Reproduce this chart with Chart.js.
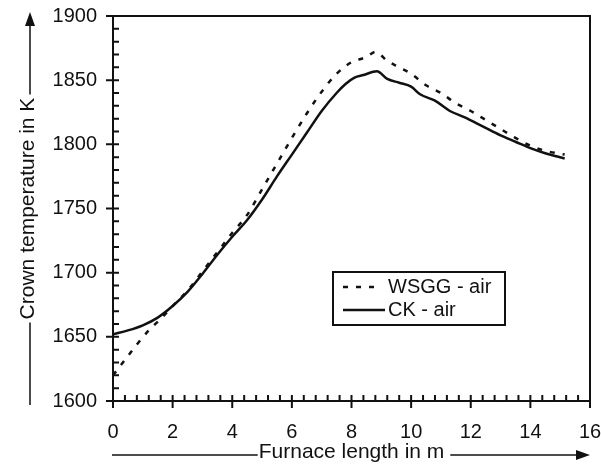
<!DOCTYPE html>
<html>
<head>
<meta charset="utf-8">
<script src="https://cdn.jsdelivr.net/npm/chart.js@4.4.1/dist/chart.umd.min.js"></script>
<style>
  html, body { margin: 0; padding: 0; background: #fff; }
  #wrap { width: 601px; height: 465px; }
</style>
</head>
<body>
<div id="wrap"><canvas id="chart" width="601" height="465"></canvas></div>
<script>
'use strict';

// WSGG - air (dashed)
const wsggLength = [0, 0.4, 0.8, 1.2, 1.6, 2.0, 2.5, 3.0, 3.5, 4.0, 4.5, 5.0, 5.5, 6.0, 6.5, 7.0, 7.5, 8.0, 8.5, 8.8,
                    9.2, 9.6, 10.0, 10.5, 11.0, 11.5, 12.0, 12.5, 13.0, 13.5, 14.0, 14.5, 15.15];
const wsggTemp   = [1620, 1632, 1644, 1655, 1664, 1674, 1686, 1701, 1716, 1731, 1745, 1765, 1785, 1805, 1824, 1841, 1855, 1864, 1868, 1872,
                    1865, 1860, 1855, 1846, 1840, 1832, 1826, 1819, 1812, 1805, 1799, 1795, 1792];

// CK - air (solid)
const ckLength = [0, 0.5, 1.0, 1.5, 2.0, 2.5, 3.0, 3.5, 4.0, 4.5, 5.0, 5.5, 6.0, 6.5, 7.0, 7.5, 7.8, 8.1, 8.4, 8.85,
                  9.2, 9.6, 10.0, 10.3, 10.8, 11.3, 11.8, 12.4, 13.0, 13.5, 14.0, 14.5, 15.15];
const ckTemp   = [1652, 1655, 1659, 1665, 1674, 1685, 1699, 1714, 1728, 1741, 1757, 1775, 1792, 1809, 1826, 1840, 1847, 1852, 1854, 1857,
                  1851, 1848, 1845, 1839, 1834, 1826, 1821, 1814, 1807, 1802, 1797, 1793, 1789];

const xMajor = [0, 2, 4, 6, 8, 10, 12, 14, 16];
const yMajor = [1600, 1650, 1700, 1750, 1800, 1850, 1900];
const MINOR_DIV = 5;

const INK = '#111';
const FONT = '"Liberation Sans", Arial, Helvetica, sans-serif';

const pairs = (xs, ys) => xs.map((v, i) => ({x: v, y: ys[i]}));

// frame, inward minor ticks and crossing major ticks
const frameTicks = {
  id: 'frameTicks',
  afterDraw(chart) {
    const {ctx, chartArea: a, scales: {x, y}} = chart;
    ctx.save();
    ctx.strokeStyle = INK;
    ctx.lineWidth = 2;
    ctx.strokeRect(a.left, a.top, a.right - a.left, a.bottom - a.top);
    ctx.beginPath();
    for (let i = 0; i < xMajor.length; i++) {
      const px = x.getPixelForValue(xMajor[i]);
      ctx.moveTo(px, a.bottom + 7);
      ctx.lineTo(px, a.bottom - 6);
      if (i < xMajor.length - 1) {
        const step = (xMajor[i + 1] - xMajor[i]) / MINOR_DIV;
        for (let k = 1; k < MINOR_DIV; k++) {
          const mx = x.getPixelForValue(xMajor[i] + k * step);
          ctx.moveTo(mx, a.bottom);
          ctx.lineTo(mx, a.bottom - 6);
        }
      }
    }
    for (let i = 0; i < yMajor.length; i++) {
      const py = y.getPixelForValue(yMajor[i]);
      ctx.moveTo(a.left - 7, py);
      ctx.lineTo(a.left + 6, py);
      if (i < yMajor.length - 1) {
        const step = (yMajor[i + 1] - yMajor[i]) / MINOR_DIV;
        for (let k = 1; k < MINOR_DIV; k++) {
          const my = y.getPixelForValue(yMajor[i] + k * step);
          ctx.moveTo(a.left, my);
          ctx.lineTo(a.left + 6, my);
        }
      }
    }
    ctx.stroke();
    ctx.restore();
  }
};

// arrows drawn around the axis titles
const titleArrows = {
  id: 'titleArrows',
  afterDraw(chart) {
    const {ctx, chartArea: a, scales: {x, y}} = chart;
    ctx.save();
    ctx.strokeStyle = INK;
    ctx.fillStyle = INK;
    ctx.lineWidth = 1.5;

    // y title
    ctx.font = `21px ${FONT}`;
    const yw = ctx.measureText(y.options.title.text).width;
    const ycx = 30;
    const ycy = (a.top + a.bottom) / 2;
    ctx.beginPath();
    ctx.moveTo(ycx, ycy + yw / 2 + 3);
    ctx.lineTo(ycx, a.bottom + 4);
    ctx.moveTo(ycx, ycy - yw / 2 - 3);
    ctx.lineTo(ycx, 24);
    ctx.stroke();
    ctx.beginPath();
    ctx.moveTo(ycx, 12);
    ctx.lineTo(ycx - 5, 26);
    ctx.lineTo(ycx + 5, 26);
    ctx.closePath();
    ctx.fill();

    // x title
    const xw = ctx.measureText(x.options.title.text).width;
    const xcx = (a.left + a.right) / 2;
    const xcy = 455;
    ctx.beginPath();
    ctx.moveTo(a.left - 1, xcy);
    ctx.lineTo(xcx - xw / 2 - 1, xcy);
    ctx.moveTo(xcx + xw / 2 + 6, xcy);
    ctx.lineTo(a.right - 12, xcy);
    ctx.stroke();
    ctx.beginPath();
    ctx.moveTo(a.right, xcy);
    ctx.lineTo(a.right - 14, xcy - 5);
    ctx.lineTo(a.right - 14, xcy + 5);
    ctx.closePath();
    ctx.fill();
    ctx.restore();
  }
};

// boxed legend inside the plot
const boxLegend = {
  id: 'boxLegend',
  afterDraw(chart) {
    const {ctx, chartArea: a} = chart;
    const bx = a.left + 220, by = a.top + 256, bw = 172, bh = 53;
    ctx.save();
    ctx.fillStyle = '#fff';
    ctx.fillRect(bx, by, bw, bh);
    ctx.strokeStyle = INK;
    ctx.lineWidth = 2;
    ctx.strokeRect(bx, by, bw, bh);
    ctx.font = `20px ${FONT}`;
    ctx.textBaseline = 'middle';
    ctx.fillStyle = INK;
    chart.data.datasets.forEach((ds, i) => {
      const ry = by + 15 + i * 23;
      ctx.beginPath();
      ctx.lineWidth = ds.borderWidth;
      ctx.setLineDash(ds.borderDash || []);
      ctx.moveTo(bx + 10, ry);
      ctx.lineTo(bx + (ds.borderDash ? 46 : 52), ry);
      ctx.stroke();
      ctx.setLineDash([]);
      ctx.fillText(ds.label, bx + 55, ry);
    });
    ctx.restore();
  }
};

const config = {
  type: 'line',
  data: {
    datasets: [{
      label: 'WSGG - air',
      data: pairs(wsggLength, wsggTemp),
      borderColor: INK,
      borderWidth: 2.5,
      borderDash: [5, 8],
      pointRadius: 0,
      fill: false,
      cubicInterpolationMode: 'monotone'
    }, {
      label: 'CK - air',
      data: pairs(ckLength, ckTemp),
      borderColor: INK,
      borderWidth: 2.5,
      pointRadius: 0,
      fill: false,
      cubicInterpolationMode: 'monotone'
    }]
  },
  options: {
    responsive: false,
    animation: false,
    layout: { padding: { top: 16, right: 11, left: 0, bottom: 0 } },
    plugins: {
      legend: { display: false },
      tooltip: { enabled: false }
    },
    scales: {
      x: {
        type: 'linear',
        min: 0,
        max: 16,
        grid: { display: false, drawTicks: false },
        border: { display: false },
        afterBuildTicks: scale => { scale.ticks = xMajor.map(v => ({value: v})); },
        afterFit: scale => {
          scale.height = 64;
          scale.paddingLeft = 0;
          scale.paddingRight = 0;
        },
        ticks: {
          color: INK,
          padding: 19,
          maxRotation: 0,
          autoSkip: false,
          callback: v => String(v),
          font: { family: FONT, size: 20 }
        },
        title: {
          display: true,
          text: 'Furnace length in m',
          color: INK,
          padding: { top: 0, bottom: 0 },
          font: { family: FONT, size: 21 }
        }
      },
      y: {
        type: 'linear',
        min: 1600,
        max: 1900,
        grid: { display: false, drawTicks: false },
        border: { display: false },
        afterBuildTicks: scale => { scale.ticks = yMajor.map(v => ({value: v})); },
        afterFit: scale => {
          scale.width = 113;
          scale.paddingTop = 0;
          scale.paddingBottom = 0;
        },
        ticks: {
          color: INK,
          padding: 16,
          autoSkip: false,
          callback: v => String(v),
          font: { family: FONT, size: 20 }
        },
        title: {
          display: true,
          text: 'Crown temperature in K',
          color: INK,
          padding: { top: 16, bottom: 0 },
          font: { family: FONT, size: 21 }
        }
      }
    }
  },
  plugins: [frameTicks, titleArrows, boxLegend]
};

new Chart(document.getElementById('chart').getContext('2d'), config);
</script>
</body>
</html>
